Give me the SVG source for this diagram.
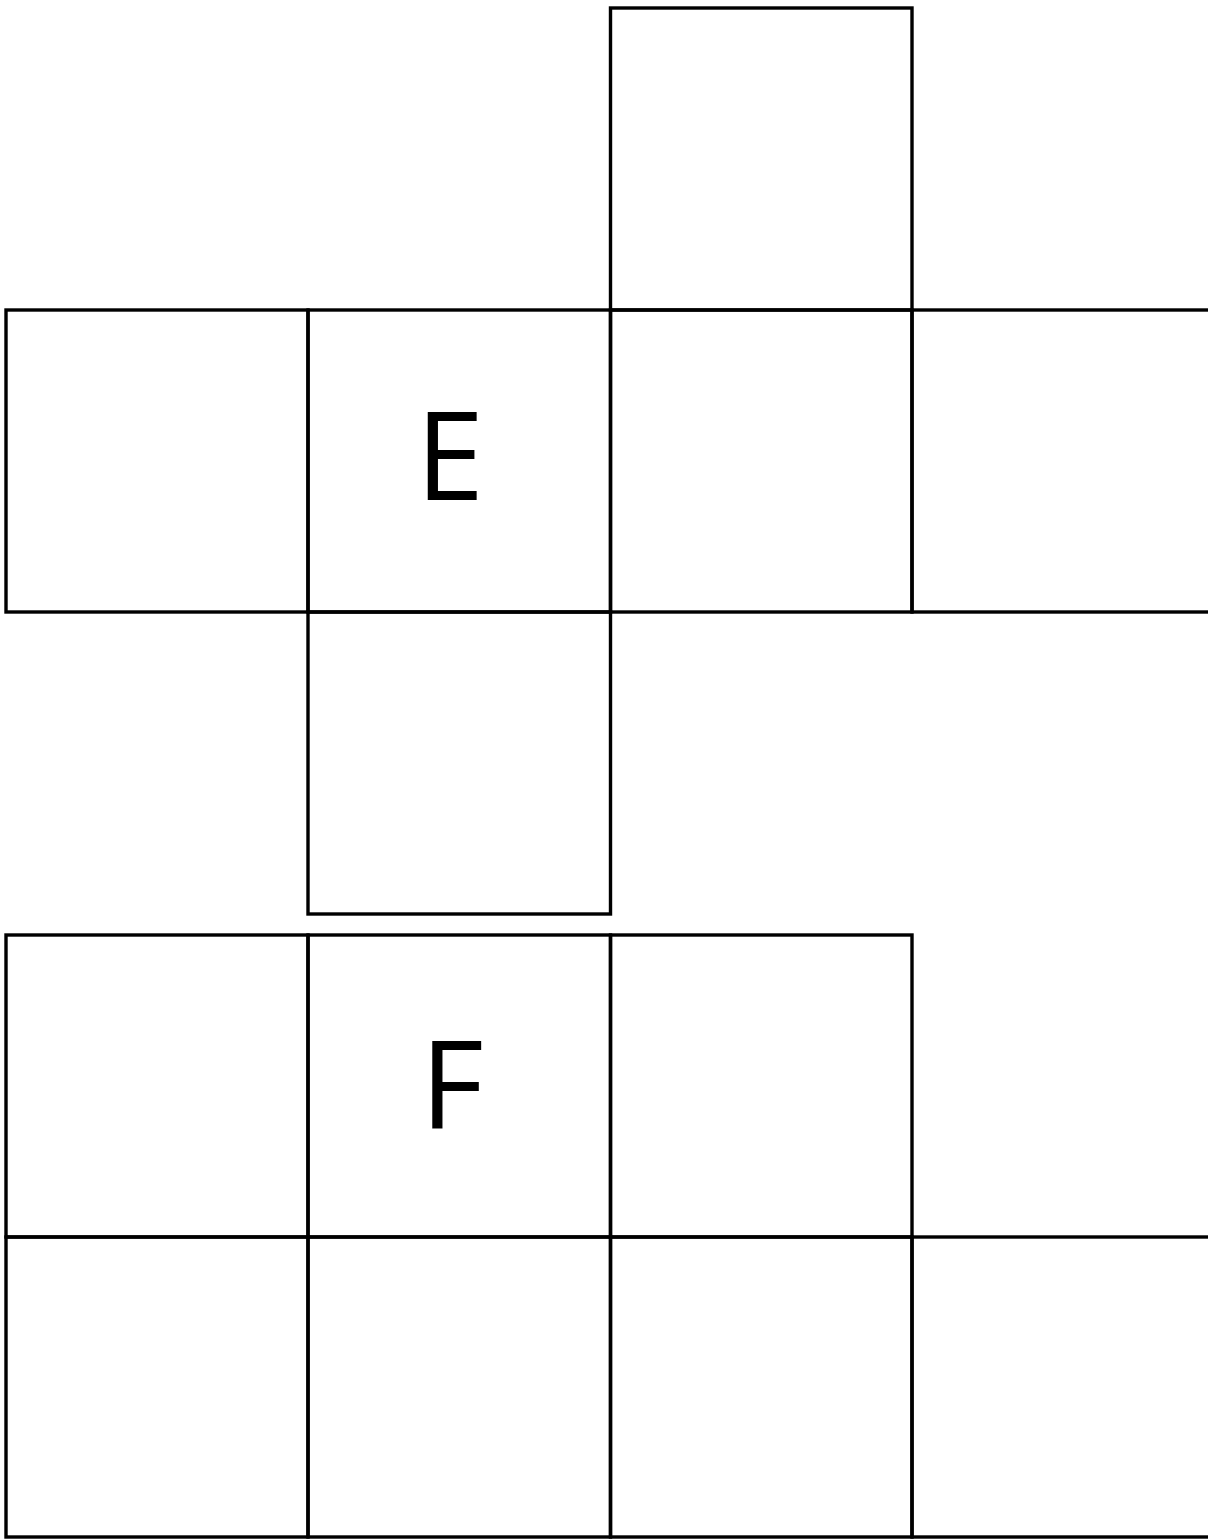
<svg xmlns="http://www.w3.org/2000/svg" width="1208" height="1539" viewBox="0 0 1208 1539">
<style>
.c{fill:none;stroke:#000;stroke-width:3.4}
.t{font-family:"Open Sans","Noto Sans",sans-serif;font-size:123px;font-weight:500;fill:#000;text-anchor:middle}
</style>
<rect width="1208" height="1539" fill="#fff"/>
<g id="netE">
<g id="e-top"><rect class="c" x="610.5" y="8" width="301.5" height="302"/></g>
<g id="e-left"><rect class="c" x="6" y="310" width="302" height="302"/></g>
<g id="e-face"><rect class="c" x="308" y="310" width="302.5" height="302"/><text class="t" x="450" y="500">E</text></g>
<g id="e-right"><rect class="c" x="610.5" y="310" width="301.5" height="302"/></g>
<g id="e-far"><rect class="c" x="912" y="310" width="310" height="302"/></g>
<g id="e-bottom"><rect class="c" x="308" y="612" width="302.5" height="302"/></g>
</g>
<g id="netF">
<g id="f-left"><rect class="c" x="6" y="935" width="302" height="302"/></g>
<g id="f-face"><rect class="c" x="308" y="935" width="302.5" height="302"/><text class="t" x="452" y="1129">F</text></g>
<g id="f-right"><rect class="c" x="610.5" y="935" width="301.5" height="302"/></g>
<g id="f-b1"><rect class="c" x="6" y="1237" width="302" height="300"/></g>
<g id="f-b2"><rect class="c" x="308" y="1237" width="302.5" height="300"/></g>
<g id="f-b3"><rect class="c" x="610.5" y="1237" width="301.5" height="300"/></g>
<g id="f-b4"><rect class="c" x="912" y="1237" width="310" height="300"/></g>
</g>
<g id="connectors"/>
</svg>
